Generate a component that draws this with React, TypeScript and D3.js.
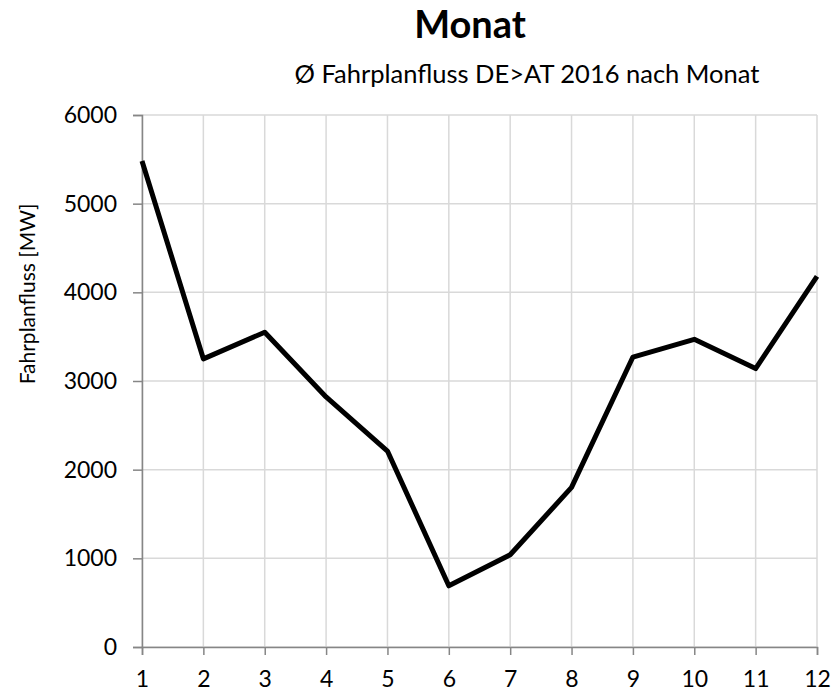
import * as d3 from "d3";
import { useRef, useEffect } from "react";

// Ø Fahrplanfluss DE>AT 2016, monthly average in MW
const months = [1, 2, 3, 4, 5, 6, 7, 8, 9, 10, 11, 12];
const flowMW = [5480, 3250, 3550, 2820, 2210, 690, 1040, 1800, 3270, 3470, 3140, 4180];
const yTicks = [0, 1000, 2000, 3000, 4000, 5000, 6000];

const dimensions = { width: 832, height: 693 };
const margin = { top: 115, right: 15, bottom: 46, left: 142 };

const FONT = "Lato, 'Open Sans', sans-serif";

const App = () => {
  const ref = useRef<SVGSVGElement>(null);

  useEffect(() => {
    const svg = d3.select(ref.current);
    svg.selectAll("*").remove();

    const innerW = dimensions.width - margin.left - margin.right;
    const innerH = dimensions.height - margin.top - margin.bottom;

    const x = d3.scaleLinear().domain([1, 12]).range([0, innerW]);
    const y = d3.scaleLinear().domain([0, 6000]).range([innerH, 0]);

    svg.append("rect")
      .attr("width", dimensions.width)
      .attr("height", dimensions.height)
      .attr("fill", "#fff");

    // titles
    svg.append("text")
      .attr("x", 470)
      .attr("y", 38)
      .attr("text-anchor", "middle")
      .attr("font-family", FONT)
      .attr("font-weight", "bold")
      .attr("font-size", 38)
      .attr("fill", "#000")
      .text("Monat");

    svg.append("text")
      .attr("x", 527)
      .attr("y", 83)
      .attr("text-anchor", "middle")
      .attr("font-family", FONT)
      .attr("font-size", 25.5)
      .attr("fill", "#000")
      .text("Ø Fahrplanfluss DE>AT 2016 nach Monat");

    svg.append("text")
      .attr("transform", `translate(35,294) rotate(-90)`)
      .attr("text-anchor", "middle")
      .attr("font-family", FONT)
      .attr("font-size", 21)
      .attr("fill", "#000")
      .text("Fahrplanfluss [MW]");

    const g = svg.append("g").attr("transform", `translate(${margin.left},${margin.top})`);

    // gridlines
    g.selectAll(".hgrid")
      .data(yTicks)
      .enter()
      .append("line")
      .attr("x1", 0)
      .attr("x2", innerW)
      .attr("y1", d => y(d))
      .attr("y2", d => y(d))
      .attr("stroke", "#d9d9d9")
      .attr("stroke-width", 1.5);

    g.selectAll(".vgrid")
      .data(months)
      .enter()
      .append("line")
      .attr("x1", d => x(d))
      .attr("x2", d => x(d))
      .attr("y1", 0)
      .attr("y2", innerH)
      .attr("stroke", "#d9d9d9")
      .attr("stroke-width", 1.5);

    // axes
    const yAxis = g.append("g").call(
      d3.axisLeft(y).tickValues(yTicks).tickSize(9).tickPadding(16).tickFormat(d3.format("d"))
    );
    const xAxis = g.append("g")
      .attr("transform", `translate(0,${innerH})`)
      .call(d3.axisBottom(x).tickValues(months).tickSize(8).tickPadding(16).tickFormat(d3.format("d")));

    [yAxis, xAxis].forEach(ax => {
      ax.select(".domain").attr("stroke", "#868686").attr("stroke-width", 1.5);
      ax.selectAll(".tick line").attr("stroke", "#868686").attr("stroke-width", 1.5);
      ax.selectAll("text")
        .attr("font-family", FONT)
        .attr("font-size", 23)
        .attr("fill", "#000");
    });

    // the series
    const line = d3.line<number>()
      .x((_, i) => x(months[i]))
      .y(d => y(d));

    g.append("path")
      .datum(flowMW)
      .attr("d", line)
      .attr("fill", "none")
      .attr("stroke", "#000")
      .attr("stroke-width", 5)
      .attr("stroke-linejoin", "round");
  }, []);

  return (
    <svg
      ref={ref}
      width={dimensions.width}
      height={dimensions.height}
      style={{ position: "absolute", left: 0, top: 0 }}
    />
  );
};

export default App;
